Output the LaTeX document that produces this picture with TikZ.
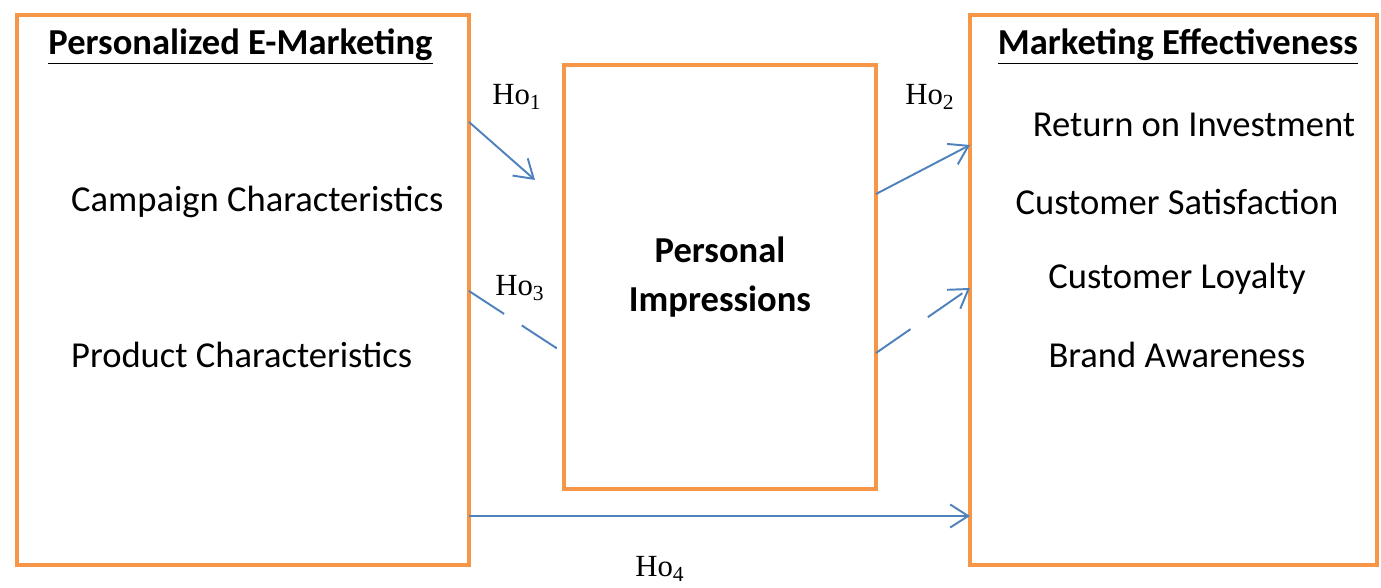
\documentclass[tikz,border=0pt]{standalone}
\usepackage{fontspec}
\setmainfont{Carlito}
\newfontfamily\hofont{Liberation Serif}
\usepackage{tikz}
\usetikzlibrary{arrows.meta,positioning,calc}
\usepackage{xcolor}
\definecolor{boxorange}{HTML}{F79646}
\definecolor{linkblue}{HTML}{4F81BD}

\tikzset{
  framebox/.style={draw=boxorange, line width=0.08cm, outer sep=0pt, inner sep=0pt},
  link/.style={draw=linkblue, line width=1.1pt, -{Straight Barb[length=0.36cm,width=0.46cm,line width=1.1pt]}},
  brokenlink/.style={link, dash pattern=on 0.84cm off 0.42cm},
  hyplabel/.style={font=\hofont\fontsize{17.5}{20}\selectfont, inner sep=1pt},
  itemtext/.style={font=\fontsize{20.8}{25}\selectfont},
  headtext/.style={font=\fontsize{20.8}{25}\selectfont\bfseries}
}

\begin{document}
\begin{tikzpicture}
  \useasboundingbox (0,0) rectangle (27.62,11.74);

  % the three blocks
  \node[framebox, minimum width=9.04cm, minimum height=11cm] (emkt) at (4.86,5.94) {};
  \node[framebox, minimum width=6.24cm, minimum height=8.48cm] (pimp) at (14.4,6.2) {};
  \node[framebox, minimum width=8.14cm, minimum height=11cm] (meff) at (23.47,5.94) {};

  % headings
  \node[headtext] (emkthead) at (4.81,10.8) {\underline{Personalized E-Marketing}};
  \node[headtext] (meffhead) at (23.56,10.8) {\underline{Marketing Effectiveness}};
  \node[headtext, align=center] (pimptext) at (14.4,6.2) {Personal\\[3pt]Impressions};

  % left items
  \node[itemtext, anchor=west] (campaign) at (1.3,7.7) {Campaign Characteristics};
  \node[itemtext, anchor=west] (product) at (1.3,4.64) {Product Characteristics};

  % right items
  \node[itemtext] (roi) at (23.88,9.24) {Return on Investment};
  \node[itemtext] (satisf) at (23.54,7.7) {Customer Satisfaction};
  \node[itemtext] (loyal) at (23.54,6.16) {Customer Loyalty};
  \node[itemtext] (brand) at (23.54,4.64) {Brand Awareness};

  % hypotheses
  \draw[link] ([yshift=3.36cm]emkt.east) -- ([xshift=-0.58cm,yshift=1.94cm]pimp.west);
  \draw[link] ([yshift=1.66cm]pimp.east) -- ([yshift=2.9cm]meff.west);
  \draw[brokenlink, -] ([yshift=-0.02cm]emkt.east) -- ([yshift=-1.52cm]pimp.west);
  \draw[brokenlink] ([yshift=-1.52cm]pimp.east) -- ([yshift=0.04cm]meff.west);
  \draw[link] ([yshift=-4.52cm]emkt.east) -- ([yshift=-4.52cm]meff.west);

  \node[hyplabel] (ho1) at (10.34,9.8) {Ho\textsubscript{1}};
  \node[hyplabel] (ho2) at (18.6,9.8) {Ho\textsubscript{2}};
  \node[hyplabel] (ho3) at (10.4,5.98) {Ho\textsubscript{3}};
  \node[hyplabel] (ho4) at (13.2,0.36) {Ho\textsubscript{4}};
\end{tikzpicture}
\end{document}
